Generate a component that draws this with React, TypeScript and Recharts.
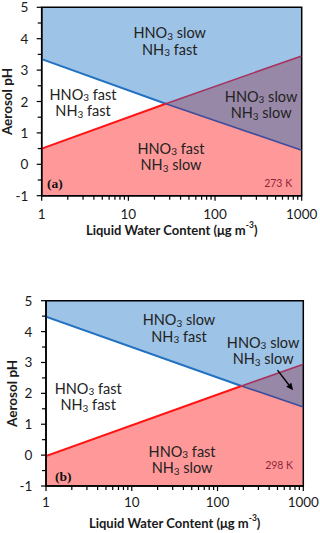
import React from 'react';
import { ComposedChart, Area, Line, XAxis, YAxis, ReferenceDot, ReferenceLine, ReferenceArea } from 'recharts';

// Panel (a) 273 K : liquid water content breakpoints and boundary lines
const lwcA = [1, 27, 1000];
const blueA = [3.35, 1.93, 0.45];
const redA = [0.5, 1.93, 3.45];

// Panel (b) 298 K
const lwcB = [1, 190, 1000];
const blueB = [4.48, 2.24, 1.56];
const redB = [-0.03, 2.24, 2.94];

const xTicks = [1, 2, 3, 4, 5, 6, 7, 8, 9, 10, 20, 30, 40, 50, 60, 70, 80, 90, 100, 200, 300, 400, 500, 600, 700, 800, 900, 1000];
const xTickLabels = [1, 10, 100, 1000];
const yTicks = [-1, -0.5, 0, 0.5, 1, 1.5, 2, 2.5, 3, 3.5, 4, 4.5, 5];
const yTickLabels = [-1, 0, 1, 2, 3, 4, 5];

const regionsA = [
  { x: 30, y: 3.93, acid: 'slow', base: 'fast' },
  { x: 3.0, y: 1.98, acid: 'fast', base: 'fast' },
  { x: 340, y: 1.92, acid: 'slow', base: 'slow' },
  { x: 31, y: 0.25, acid: 'fast', base: 'slow' },
];
const regionsB = [
  { x: 35.5, y: 4.13, acid: 'slow', base: 'fast' },
  { x: 340, y: 3.4, acid: 'slow', base: 'slow' },
  { x: 3.1, y: 1.91, acid: 'fast', base: 'fast' },
  { x: 38.6, y: -0.14, acid: 'fast', base: 'slow' },
];
const arrowB = [{ x: 500, y: 2.75 }, { x: 760, y: 2.1 }];

const FONT = 'Lato, "Open Sans", sans-serif';
const BLUE_FILL = '#9DC3E6';
const PINK_FILL = '#FF9999';
const PURPLE_FILL = '#9888A7';
const BLUE_LINE = '#2271C2';
const RED_LINE = '#FF1414';
const RED_IN_PURPLE = '#A6325F';
const BLUE_IN_PURPLE = '#3F4C9C';

function buildRows(lwc: number[], blue: number[], red: number[]) {
  return lwc.map((x, i) => {
    const b = blue[i];
    const r = red[i];
    return {
      x,
      pink: [-1, Math.min(b, r)],
      top: [Math.max(b, r), 5],
      purple: i >= 1 ? [b, r] : null,
      blueL: i <= 1 ? b : null,
      blueR: i >= 1 ? b : null,
      redL: i <= 1 ? r : null,
      redR: i >= 1 ? r : null,
    };
  });
}

const makeXTick = (labelOffset: number) => (props: any) => {
  const { x, y, payload } = props;
  const major = xTickLabels.includes(payload.value);
  return (
    <g>
      <line x1={x} x2={x} y1={y} y2={y + (major ? 5 : 4)} stroke="#000" strokeWidth={1.2} />
      {major && (
        <text x={x} y={y + labelOffset} textAnchor="middle" dominantBaseline="central" fontFamily={FONT} fontSize={13.5} fill="#1a1a1a">
          {payload.value}
        </text>
      )}
    </g>
  );
};

const makeYTick = (labelOffset: number) => (props: any) => {
  const { x, y, payload } = props;
  const major = yTickLabels.includes(payload.value);
  return (
    <g>
      <line x1={x - (major ? 5 : 4)} x2={x} y1={y} y2={y} stroke="#000" strokeWidth={1.2} />
      {major && (
        <text x={x - labelOffset} y={y} textAnchor="end" dominantBaseline="central" fontFamily={FONT} fontSize={13.5} fill="#1a1a1a">
          {payload.value}
        </text>
      )}
    </g>
  );
};

const regionLabel = (acid: string, base: string) => (props: any) => {
  const vb = props.viewBox || {};
  const cx = vb.x + (vb.width || 0) / 2;
  const cy = vb.y + (vb.height || 0) / 2;
  return (
    <text textAnchor="middle" fontFamily={FONT} fontSize={14.5} fill="#222">
      <tspan x={cx} y={cy - 8} dominantBaseline="central">HNO<tspan fontSize={10} dy={3}>3</tspan><tspan dy={-3}>{' ' + acid}</tspan></tspan>
      <tspan x={cx} y={cy + 8.5} dominantBaseline="central">NH<tspan fontSize={10} dy={3}>3</tspan><tspan dy={-3}>{' ' + base}</tspan></tspan>
    </text>
  );
};

function Panel(props: {
  lwc: number[]; blue: number[]; red: number[]; regions: any[];
  margin: any; width: number; height: number; yAxisWidth: number; xAxisHeight: number;
  xLabelOffset: number; xTitleOffset: number; yLabelOffset: number; yTitleX: number;
  tag: string; tagPos: { x: number; y: number }; temp: string; tempPos: { x: number; y: number };
  arrow?: { x: number; y: number }[];
}) {
  const rows = buildRows(props.lwc, props.blue, props.red);
  const plotTop = props.margin.top;
  const plotH = props.height - props.margin.top - props.xAxisHeight;
  return (
    <ComposedChart width={props.width} height={props.height} data={rows} margin={props.margin}>
      <XAxis
        dataKey="x" type="number" scale="log" domain={[1, 1000]} ticks={xTicks} interval={0}
        allowDataOverflow tickLine={false} tickSize={0} tickMargin={0} height={props.xAxisHeight}
        axisLine={{ stroke: '#000', strokeWidth: 1.5 }}
        tick={makeXTick(props.xLabelOffset)}
        label={{
          content: (lp: any) => {
            const vb = lp.viewBox;
            return (
              <text x={vb.x + vb.width / 2} y={vb.y + props.xTitleOffset} textAnchor="middle" dominantBaseline="central" fontFamily={FONT} fontWeight="bold" fontSize={13} fill="#1a1a1a">
                Liquid Water Content (μg m<tspan fontSize={8.5} dy={-5}>-3</tspan><tspan dy={5}>)</tspan>
              </text>
            );
          },
        }}
      />
      <YAxis
        type="number" domain={[-1, 5]} ticks={yTicks} interval={0} allowDataOverflow
        tickLine={false} tickSize={0} tickMargin={0} width={props.yAxisWidth}
        axisLine={{ stroke: '#000', strokeWidth: 1.5 }}
        tick={makeYTick(props.yLabelOffset)}
        label={{
          content: () => {
            const cy = plotTop + plotH / 2;
            const cx = props.yTitleX;
            return (
              <text x={cx} y={cy} transform={`rotate(-90 ${cx} ${cy})`} textAnchor="middle" dominantBaseline="central" fontFamily={FONT} fontWeight="bold" fontSize={13.5} fill="#1a1a1a">
                Aerosol pH
              </text>
            );
          },
        }}
      />
      <Area dataKey="pink" type="linear" fill={PINK_FILL} fillOpacity={1} stroke="none" isAnimationActive={false} connectNulls={false} />
      <Area dataKey="top" type="linear" fill={BLUE_FILL} fillOpacity={1} stroke="none" isAnimationActive={false} connectNulls={false} />
      <Area dataKey="purple" type="linear" fill={PURPLE_FILL} fillOpacity={1} stroke="none" isAnimationActive={false} connectNulls={false} />
      <Line dataKey="blueL" type="linear" stroke={BLUE_LINE} strokeWidth={2} dot={false} activeDot={false} isAnimationActive={false} connectNulls={false} />
      <Line dataKey="redL" type="linear" stroke={RED_LINE} strokeWidth={2} dot={false} activeDot={false} isAnimationActive={false} connectNulls={false} />
      <Line dataKey="blueR" type="linear" stroke={BLUE_IN_PURPLE} strokeWidth={1.6} dot={false} activeDot={false} isAnimationActive={false} connectNulls={false} />
      <Line dataKey="redR" type="linear" stroke={RED_IN_PURPLE} strokeWidth={1.6} dot={false} activeDot={false} isAnimationActive={false} connectNulls={false} />
      {props.regions.map((r, i) => (
        <ReferenceDot key={i} x={r.x} y={r.y} r={0} fill="none" stroke="none" ifOverflow="visible" label={{ content: regionLabel(r.acid, r.base) }} />
      ))}
      <ReferenceDot x={props.tagPos.x} y={props.tagPos.y} r={0} fill="none" stroke="none" ifOverflow="visible"
        label={{
          content: (lp: any) => (
            <text x={lp.viewBox.x} y={lp.viewBox.y} dominantBaseline="central" fontFamily='"Liberation Serif", "DejaVu Serif", serif' fontWeight="bold" fontSize={13.5} fill="#111">
              {props.tag}
            </text>
          ),
        }}
      />
      <ReferenceDot x={props.tempPos.x} y={props.tempPos.y} r={0} fill="none" stroke="none" ifOverflow="visible"
        label={{
          content: (lp: any) => (
            <text x={lp.viewBox.x} y={lp.viewBox.y} textAnchor="end" dominantBaseline="central" fontFamily={FONT} fontSize={10.5} fill="#8E2639">
              {props.temp}
            </text>
          ),
        }}
      />
      {props.arrow && (
        <ReferenceLine
          segment={props.arrow}
          ifOverflow="visible"
          shape={(sp: any) => {
            const { x1, y1, x2, y2 } = sp;
            const ang = Math.atan2(y2 - y1, x2 - x1);
            const L = 7;
            const W = 3.2;
            const bx = x2 - L * Math.cos(ang);
            const by = y2 - L * Math.sin(ang);
            const px = -Math.sin(ang) * W;
            const py = Math.cos(ang) * W;
            return (
              <g>
                <line x1={x1} y1={y1} x2={bx} y2={by} stroke="#000" strokeWidth={1.4} />
                <polygon points={`${x2},${y2} ${bx + px},${by + py} ${bx - px},${by - py}`} fill="#000" />
              </g>
            );
          }}
        />
      )}
      <ReferenceArea x1={1} x2={1000} y1={-1} y2={5} fill="none" fillOpacity={0} stroke="#000" strokeWidth={1.5} ifOverflow="visible" />
    </ComposedChart>
  );
}

export default function App() {
  return (
    <div style={{ position: 'fixed', left: 0, top: 0, width: 320, height: 533, background: '#fff', overflow: 'hidden' }}>
      <style>{'html,body{margin:0;padding:0;overflow:hidden} .recharts-surface{overflow:visible}'}</style>
      <div style={{ position: 'absolute', left: 0, top: 0 }}>
        <Panel
          lwc={lwcA} blue={blueA} red={redA} regions={regionsA}
          width={320} height={265} margin={{ top: 7.3, right: 18.3, left: 0, bottom: 0 }}
          yAxisWidth={41.7} xAxisHeight={69.3}
          xLabelOffset={18.3} xTitleOffset={34.3} yLabelOffset={13.4} yTitleX={7.3}
          tag="(a)" tagPos={{ x: 1.15, y: -0.6 }} temp="273 K" tempPos={{ x: 775, y: -0.6 }}
        />
      </div>
      <div style={{ position: 'absolute', left: 0, top: 265 }}>
        <Panel
          lwc={lwcB} blue={blueB} red={redB} regions={regionsB}
          width={320} height={268} margin={{ top: 35.7, right: 16.7, left: 0, bottom: 0 }}
          yAxisWidth={46} xAxisHeight={47}
          xLabelOffset={16.3} xTitleOffset={37.3} yLabelOffset={13.7} yTitleX={12}
          tag="(b)" tagPos={{ x: 1.27, y: -0.68 }} temp="298 K" tempPos={{ x: 760, y: -0.32 }}
          arrow={arrowB}
        />
      </div>
    </div>
  );
}
